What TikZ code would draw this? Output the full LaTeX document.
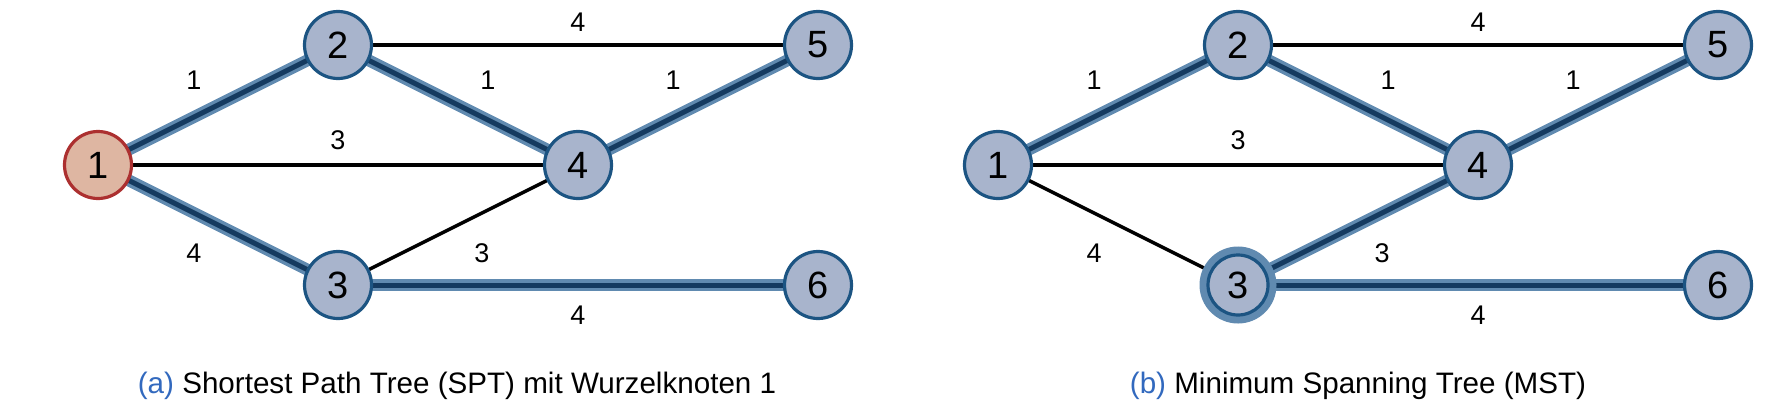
\documentclass[tikz,border=0pt]{standalone}
\usepackage{fontspec}
\setmainfont{Liberation Sans}
\usetikzlibrary{backgrounds}

\definecolor{nodefill}{RGB}{168,180,204}
\definecolor{nodeline}{RGB}{28,84,130}
\definecolor{rootfill}{RGB}{222,182,162}
\definecolor{rootline}{RGB}{172,48,48}
\definecolor{treelight}{RGB}{96,138,176}
\definecolor{treedark}{RGB}{20,58,96}
\definecolor{capblue}{RGB}{50,105,190}

\tikzset{
  vertex/.style={circle, draw=nodeline, fill=nodefill, line width=3.2pt,
    minimum size=67pt, inner sep=0pt, font=\fontsize{38}{38}\selectfont},
  rootvertex/.style={vertex, draw=rootline, fill=rootfill},
  haloedvertex/.style={vertex, minimum size=60pt},
  plainedge/.style={draw=black, line width=3.4pt},
  treeedge/.style={draw=treelight, line width=12pt,
    postaction={draw=treedark, line width=5pt}},
  halo/.style={draw=treelight, line width=9pt},
  weight/.style={font=\fontsize{27}{28}\selectfont, inner sep=0pt},
  caption/.style={font=\fontsize{29.6}{34}\selectfont, inner sep=0pt, anchor=base},
}

\begin{document}
\begin{tikzpicture}[x=1pt, y=-1pt]
\useasboundingbox (0,0) rectangle (1788,418);

% ---------- (a) SPT ----------
\node[rootvertex] (a1) at (98,165) {1};
\node[vertex] (a2) at (338,45) {2};
\node[vertex] (a3) at (338,285) {3};
\node[vertex] (a4) at (578,165) {4};
\node[vertex] (a5) at (818,45) {5};
\node[vertex] (a6) at (818,285) {6};

\begin{pgfonlayer}{background}
  \draw[plainedge] (a2.center) -- (a5.center);
  \draw[plainedge] (a1.center) -- (a4.center);
  \draw[plainedge] (a3.center) -- (a4.center);
  \draw[treeedge] (a1.center) -- (a2.center);
  \draw[treeedge] (a1.center) -- (a3.center);
  \draw[treeedge] (a2.center) -- (a4.center);
  \draw[treeedge] (a4.center) -- (a5.center);
  \draw[treeedge] (a3.center) -- (a6.center);
\end{pgfonlayer}

\node[weight] (wa12) at (194,80) {1};
\node[weight] (wa25) at (578,22) {4};
\node[weight] (wa24) at (488,80) {1};
\node[weight] (wa45) at (673,80) {1};
\node[weight] (wa14) at (338,140) {3};
\node[weight] (wa13) at (194,253) {4};
\node[weight] (wa34) at (482,253) {3};
\node[weight] (wa36) at (578,315) {4};

\node[caption] (capa) at (457,393) {\textcolor{capblue}{(a)} Shortest Path Tree (SPT) mit Wurzelknoten 1};

% ---------- (b) MST ----------
\node[vertex] (b1) at (998,165) {1};
\node[vertex] (b2) at (1238,45) {2};
\node[haloedvertex] (b3) at (1238,285) {3};
\node[vertex] (b4) at (1478,165) {4};
\node[vertex] (b5) at (1718,45) {5};
\node[vertex] (b6) at (1718,285) {6};

\begin{pgfonlayer}{background}
  \draw[plainedge] (b2.center) -- (b5.center);
  \draw[plainedge] (b1.center) -- (b4.center);
  \draw[plainedge] (b1.center) -- (b3.center);
  \draw[treeedge] (b1.center) -- (b2.center);
  \draw[treeedge] (b2.center) -- (b4.center);
  \draw[treeedge] (b4.center) -- (b5.center);
  \draw[treeedge] (b3.center) -- (b4.center);
  \draw[treeedge] (b3.center) -- (b6.center);
  \draw[halo] (b3.center) circle[radius=34];
\end{pgfonlayer}

\node[weight] (wb12) at (1094,80) {1};
\node[weight] (wb25) at (1478,22) {4};
\node[weight] (wb24) at (1388,80) {1};
\node[weight] (wb45) at (1573,80) {1};
\node[weight] (wb14) at (1238,140) {3};
\node[weight] (wb13) at (1094,253) {4};
\node[weight] (wb34) at (1382,253) {3};
\node[weight] (wb36) at (1478,315) {4};

\node[caption] (capb) at (1358,393) {\textcolor{capblue}{(b)} Minimum Spanning Tree (MST)};
\end{tikzpicture}
\end{document}
